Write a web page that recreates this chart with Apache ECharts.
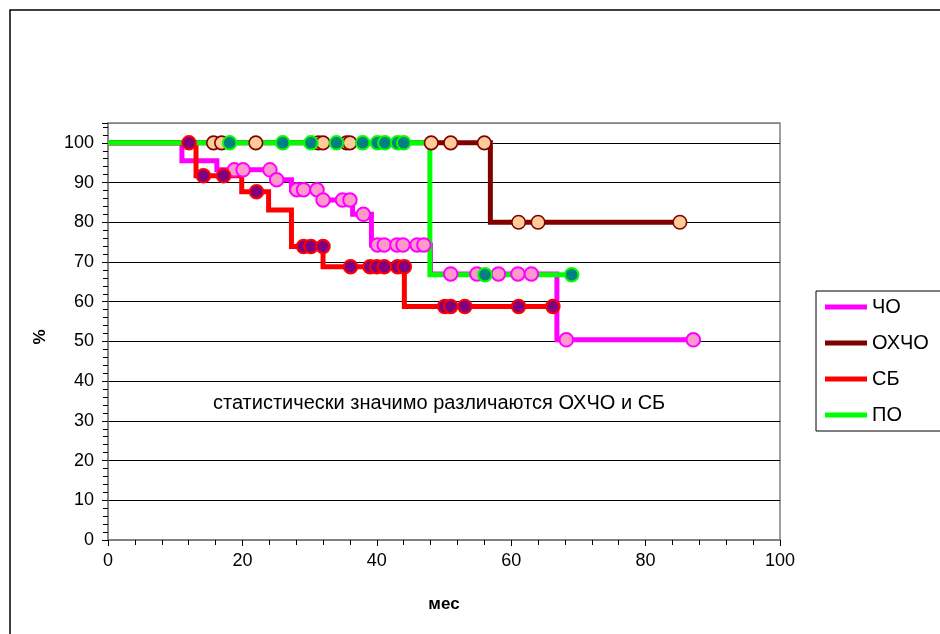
<!DOCTYPE html>
<html>
<head>
<meta charset="utf-8">
<script src="https://cdn.jsdelivr.net/npm/echarts@6/dist/echarts.min.js"></script>
<style>
  html, body { margin: 0; padding: 0; background: #fff; }
  #chart { width: 940px; height: 634px; }
</style>
</head>
<body>
<div id="chart"></div>
<script>
// Kaplan–Meier survival curves by group, % vs months
const groupNames = ['ЧО', 'ОХЧО', 'СБ', 'ПО'];

// Step curves: [month, survival %] at each event time
const curveCHO   = [[0,100],[11,95.5],[16.2,93.2],[24.6,90.7],[27.3,88.2],[31.8,85.6],[36.4,82],[39.2,74.3],[48,67],[66.8,50.4],[87.1,50.4]];
const curveOHCHO = [[0,100],[56.9,80],[85.1,80]];
const curveSB    = [[0,100],[13.1,91.7],[19.9,87.7],[23.9,83.1],[27.3,73.9],[32,68.8],[44.1,58.8],[66.2,58.8]];
const curvePO    = [[0,100],[47.9,66.8],[69,66.8]];

// Censored observations: [month, survival %]
const censCHO = [[18.8,93.2],[20.1,93.2],[24.1,93.2],[25.1,90.7],[28.1,88.2],[29.1,88.2],[31.1,88.2],
  [32,85.6],[34.9,85.6],[36,85.6],[38,82],[40.1,74.3],[41.1,74.3],[43,74.3],[43.9,74.3],[46,74.3],[47,74.3],
  [51,67],[54.9,67],[58.1,67],[61,67],[63,67],[68.2,50.4],[87.1,50.4]];
const censOHCHO = [[15.7,100],[16.9,100],[22,100],[31.3,100],[32,100],[35.5,100],[36,100],[48.1,100],[51,100],[56,100],
  [61.1,80],[64,80],[85.1,80]];
const censSB = [[12.05,100],[14.2,91.7],[17.2,91.7],[22.1,87.7],[29.1,73.9],[30.2,73.9],[32,73.9],
  [36.1,68.8],[39,68.8],[40,68.8],[41.1,68.8],[43.1,68.8],[44.1,68.8],
  [50.1,58.8],[51,58.8],[53.1,58.8],[61.1,58.8],[66.2,58.8]];
const censPO = [[18.1,100],[26,100],[30.2,100],[34,100],[37.9,100],[40.1,100],[41.2,100],[43.1,100],[44,100],
  [56.1,66.8],[69,66.8]];

const xTicks = { min: 0, max: 100, step: 20 };
const yTicks = { min: 0, max: 105, step: 10 };
const xTitle = 'мес';
const yTitle = '%';
const noteText = 'статистически значимо различаются ОХЧО и СБ';

const lineColors   = ['#FF00FF', '#800000', '#FF0000', '#00FF00'];
const markerFills  = ['#FF99CC', '#FFCC99', '#800080', '#008080'];
const markerEdges  = ['#FF00FF', '#800000', '#FF0000', '#00FF00'];
const font = '"Liberation Sans", Arial, sans-serif';

const curves = [curveCHO, curveOHCHO, curveSB, curvePO];
const censored = [censCHO, censOHCHO, censSB, censPO];

const lineSeries = curves.map((d, i) => ({
  name: groupNames[i],
  type: 'line',
  step: 'end',
  data: d,
  symbol: 'none',
  lineStyle: { color: lineColors[i], width: 5, join: 'miter' },
  itemStyle: { color: lineColors[i] },
  z: 2 + i * 0.01,
  animation: false
}));

const markerSeries = censored.map((d, i) => ({
  name: groupNames[i] + ' цензур.',
  type: 'scatter',
  data: d,
  symbol: 'circle',
  symbolSize: 13.5,
  itemStyle: { color: markerFills[i], borderColor: markerEdges[i], borderWidth: i === 1 ? 1.6 : 2, opacity: 1 },
  z: 4,
  animation: false
}));

const splitColors = [];
for (let v = yTicks.min; v <= yTicks.max; v += yTicks.step) splitColors.push('#000000');
splitColors.push('#808080');

const chart = echarts.init(document.getElementById('chart'), null, { renderer: 'canvas' });
chart.setOption({
  backgroundColor: '#ffffff',
  animation: false,
  textStyle: { fontFamily: font },
  grid: {
    left: 108, top: 123, right: 160, bottom: 94,
    show: true, borderColor: '#808080', borderWidth: 1.5, backgroundColor: 'transparent'
  },
  xAxis: {
    type: 'value',
    min: xTicks.min, max: xTicks.max, interval: xTicks.step,
    name: xTitle, nameLocation: 'middle', nameGap: 56,
    nameTextStyle: { fontSize: 17, fontWeight: 'bold', color: '#000', fontFamily: font },
    axisLine: { show: true, lineStyle: { color: '#808080', width: 2 } },
    axisTick: { show: true, length: 6, lineStyle: { color: '#000' } },
    minorTick: { show: true, splitNumber: 5, length: 5, lineStyle: { color: '#000' } },
    axisLabel: { fontSize: 18, color: '#000', margin: 12, fontFamily: font },
    splitLine: { show: false }
  },
  yAxis: {
    type: 'value',
    min: yTicks.min, max: yTicks.max, interval: yTicks.step,
    axisLine: { show: true, lineStyle: { color: '#808080', width: 1.5 } },
    axisTick: { show: true, length: 6, lineStyle: { color: '#000' } },
    minorTick: { show: true, splitNumber: 5, length: 5, lineStyle: { color: '#000' } },
    axisLabel: { fontSize: 18, color: '#000', margin: 14, fontFamily: font, showMaxLabel: false,
      formatter: v => (v > 100 ? '' : String(v)) },
    splitLine: { show: true, lineStyle: { color: splitColors, width: 1 } }
  },
  legend: {
    orient: 'vertical',
    left: 816, top: 291,
    padding: [6, 80, 6, 9],
    itemWidth: 42, itemHeight: 5, itemGap: 16,
    icon: 'rect',
    borderColor: '#000', borderWidth: 1,
    textStyle: { fontSize: 20, color: '#000', fontFamily: font },
    data: groupNames
  },
  graphic: [
    {
      type: 'polyline',
      shape: { points: [[10, 634], [10, 10], [940, 10]] },
      style: { stroke: '#000', lineWidth: 1.5, fill: null },
      silent: true, z: 100
    },
    {
      type: 'text',
      x: 40, y: 337, rotation: Math.PI / 2,
      style: { text: yTitle, fontSize: 17, fontWeight: 'bold', fill: '#000', fontFamily: font,
        align: 'center', verticalAlign: 'middle' },
      silent: true, z: 100
    },
    {
      type: 'text',
      left: 213, top: 393,
      style: { text: noteText, fontSize: 20, fill: '#000', fontFamily: font },
      silent: true, z: 100
    }
  ],
  series: lineSeries.concat(markerSeries)
});
</script>
</body>
</html>
